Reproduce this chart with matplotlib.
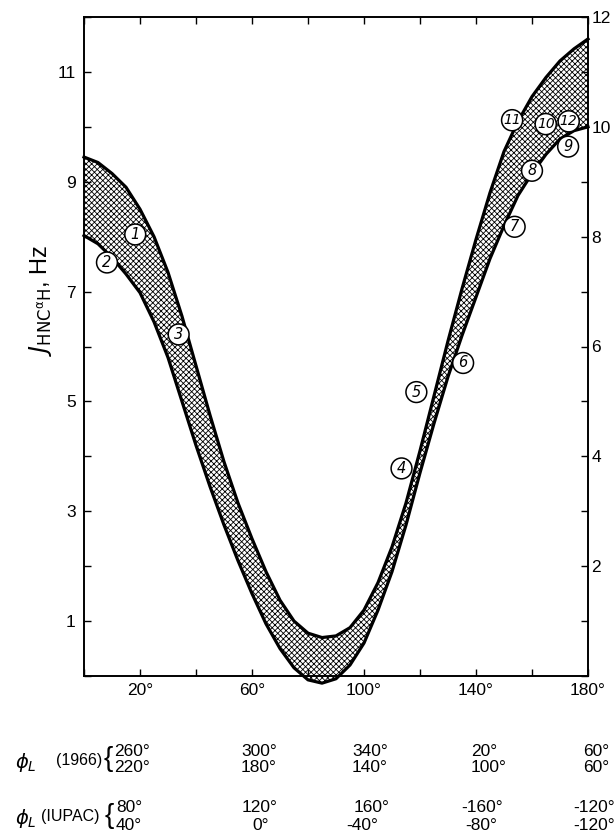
import matplotlib
matplotlib.use('Agg')
import matplotlib.pyplot as plt

# ---------------- data ----------------
angle = [0, 5, 10, 15, 20, 25, 30, 35, 40, 45, 50, 55, 60, 65, 70, 75, 80, 85, 90,
         95, 100, 105, 110, 115, 120, 125, 130, 135, 140, 145, 150, 155, 160, 165,
         170, 175, 180]
j_upper = [9.45, 9.35, 9.15, 8.9, 8.5, 8.0, 7.35, 6.55, 5.65, 4.75, 3.9, 3.15, 2.5,
           1.9, 1.38, 1.0, 0.78, 0.7, 0.73, 0.88, 1.2, 1.7, 2.35, 3.15, 4.1, 5.1,
           6.1, 7.05, 7.95, 8.8, 9.55, 10.1, 10.55, 10.9, 11.2, 11.42, 11.6]
j_lower = [8.02, 7.87, 7.62, 7.32, 6.98, 6.45, 5.8, 5.0, 4.2, 3.45, 2.75, 2.1, 1.5,
           0.95, 0.5, 0.15, -0.07, -0.13, -0.05, 0.2, 0.6, 1.2, 1.9, 2.75, 3.7,
           4.6, 5.45, 6.2, 6.9, 7.6, 8.2, 8.75, 9.15, 9.5, 9.78, 9.93, 10.0]

point_labels = ['1', '2', '3', '4', '5', '6', '7', '8', '9', '10', '11', '12']
point_angle = [18.3, 8.2, 33.8, 113.4, 118.7, 135.4, 153.8, 160.0, 172.9, 164.9, 152.9, 173.1]
point_j = [8.04, 7.53, 6.22, 3.78, 5.17, 5.70, 8.18, 9.20, 9.64, 10.05, 10.12, 10.10]

x_ticks = [20, 60, 100, 140, 180]
left_ticks = [1, 3, 5, 7, 9, 11]
right_ticks = [2, 4, 6, 8, 10, 12]

row_1966_a = ['260°', '300°', '340°', '20°', '60°']
row_1966_b = ['220°', '180°', '140°', '100°', '60°']
row_iupac_a = ['80°', '120°', '160°', '-160°', '-120°']
row_iupac_b = ['40°', '0°', '-40°', '-80°', '-120°']

# ---------------- figure ----------------
W, H = 614, 835
plt.rcParams['hatch.linewidth'] = 0.6
plt.rcParams['font.family'] = ['Liberation Sans', 'DejaVu Sans']
fig = plt.figure(figsize=(W / 100, H / 100), dpi=100)
ax = fig.add_axes([84 / W, 1 - 676 / H, (588 - 84) / W, (676 - 17) / H])
ax.set_xlim(0, 180)
ax.set_ylim(0, 12)

ax.fill_between(angle, j_lower, j_upper, facecolor='white', edgecolor='black',
                hatch='xxxxxx', linewidth=0, clip_on=False, zorder=1)
ax.plot(angle, j_upper, color='black', lw=2.3, clip_on=False, zorder=3,
        solid_joinstyle='round')
ax.plot(angle, j_lower, color='black', lw=2.3, clip_on=False, zorder=3,
        solid_joinstyle='round')

for lab, xa, ya in zip(point_labels, point_angle, point_j):
    one = len(lab) == 1
    ax.text(xa, ya, lab, ha='center', va='center',
            fontsize=10.5 if one else 10, style='italic',
            zorder=5, family='DejaVu Sans',
            bbox=dict(boxstyle='circle,pad=0.2' if one else 'circle,pad=0.12',
                      fc='white', ec='black', lw=1.1))

for s in ax.spines.values():
    s.set_linewidth(1.2)

ax.set_xticks(range(0, 181, 20))
ax.set_xticklabels([f'{t}°' if t in x_ticks else '' for t in range(0, 181, 20)],
                   fontsize=12.5)
ax.set_yticks(range(0, 13))
ax.set_yticklabels([str(t) if t in left_ticks else '' for t in range(0, 13)],
                   fontsize=12.5)
ax.tick_params(direction='in', length=5, width=1, top=True, pad=6)
ax.tick_params(axis='x', pad=5)

ax2 = ax.twinx()
ax2.set_ylim(0, 12)
ax2.set_yticks(range(0, 13))
ax2.set_yticklabels([str(t) if t in right_ticks else '' for t in range(0, 13)],
                    fontsize=12.5)
ax2.tick_params(direction='in', length=5, width=1, pad=2.5)
for s in ax2.spines.values():
    s.set_linewidth(1.2)

fig.text(41 / W, 1 - 300 / H, r'$\mathit{J}_{\rm HNC^{\alpha}H}$, Hz', rotation=90,
         ha='center', va='center', fontsize=17)

def ftxt(px, py, s, **kw):
    fig.text(px / W, 1 - py / H, s, **kw)

rows = [(row_1966_a, 751, [114, 241, 352, 471, 583]),
        (row_1966_b, 768, [114, 241, 352, 471, 583]),
        (row_iupac_a, 807, [116, 242, 354, 461, 573]),
        (row_iupac_b, 825, [116, 252, 346, 465, 573])]
for vals, py, xs in rows:
    for v, px in zip(vals, xs):
        ftxt(px, py, v, ha='left', va='center', fontsize=12.5)

ftxt(15, 762, r'$\phi_L$', ha='left', va='center', fontsize=14)
ftxt(56, 760, '(1966)', ha='left', va='center', fontsize=11.5)
ftxt(113, 759, '{', ha='right', va='center', fontsize=20)
ftxt(15, 818, r'$\phi_L$', ha='left', va='center', fontsize=14)
ftxt(41, 816, '(IUPAC)', ha='left', va='center', fontsize=11.5)
ftxt(114, 816, '{', ha='right', va='center', fontsize=20)

fig.savefig('out.png', dpi=100)
